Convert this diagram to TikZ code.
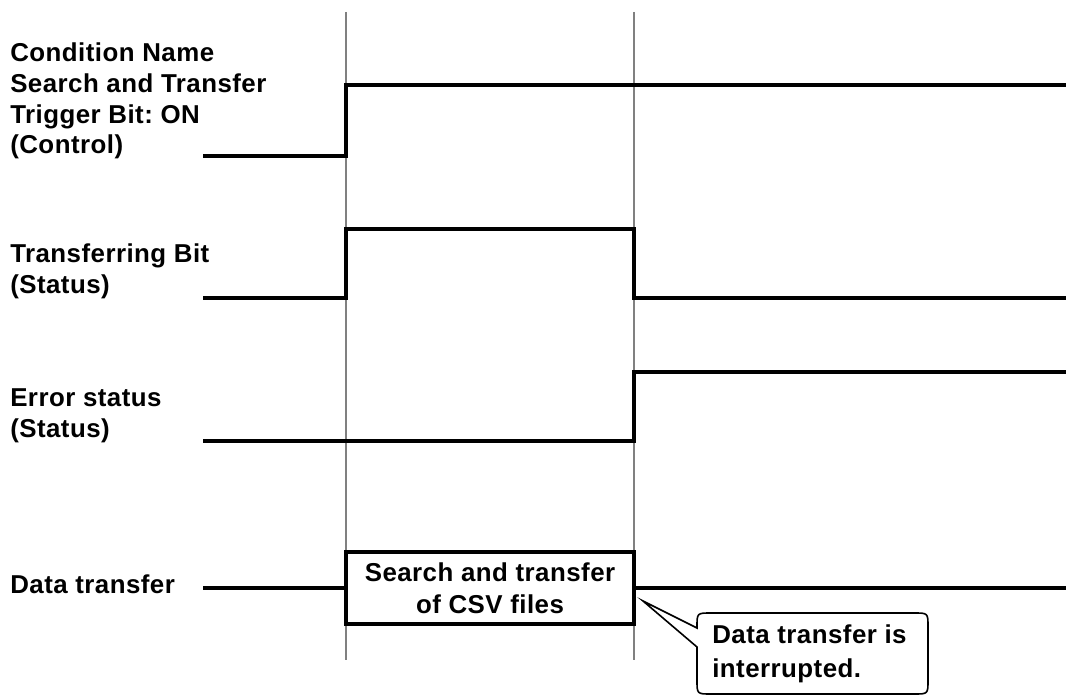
\documentclass[tikz,border=0pt]{standalone}
\usepackage{fontspec}
\setmainfont{Liberation Sans}[LetterSpace=1.8]
\frenchspacing
\begin{document}
\begin{tikzpicture}[x=0.75pt,y=-0.75pt,
  lbl/.style={font=\bfseries\fontsize{19.4}{23}\selectfont, align=left, inner sep=0pt, anchor=base west},
  sig/.style={line width=2.3pt, black},
  guide/.style={black!50, line width=1.2pt},
  boxed/.style={draw, line width=2.4pt, minimum width=216pt, minimum height=54pt, inner sep=0pt,
     font=\bfseries\fontsize{19.4}{24}\selectfont, align=center},
  callout/.style={line width=1.2pt, black}]
\useasboundingbox (0,0) rectangle (1066,695);
% guide lines
\coordinate (g1t) at (346,12); \coordinate (g1b) at (346,660);
\coordinate (g2t) at (634,12); \coordinate (g2b) at (634,660);
\draw[guide] (g1t) -- (g1b);
\draw[guide] (g2t) -- (g2b);
% labels (anchor = baseline of last line)
\node[lbl] (l1) at (10,154) {Condition Name\\Search and Transfer\\Trigger Bit: ON\\(Control)};
\node[lbl] (l2) at (10,293) {Transferring Bit\\(Status)};
\node[lbl] (l3) at (10,437) {Error status\\(Status)};
\node[lbl] (l4) at (10,593) {Data transfer};
% signals
\draw[sig] (203,156) -- (346,156) -- (346,85) -- (1066,85);
\draw[sig] (203,298) -- (346,298) -- (346,229) -- (634,229) -- (634,298) -- (1066,298);
\draw[sig] (203,441) -- (634,441) -- (634,372) -- (1066,372);
% data transfer box
\node[boxed] (xfer) at (490,588) {Search and transfer\\of CSV files};
\draw[sig] (203,588) -- (xfer.west);
\draw[sig] (xfer.east) -- (1066,588);
% callout
\coordinate (tip) at (643,601);
\draw[callout] (tip) -- (697,647) -- (697,680) .. controls (697,694) .. (711,694) -- (914,694)
  .. controls (928,694) .. (928,680) -- (928,627) .. controls (928,613) .. (914,613) -- (711,613)
  .. controls (697,613) .. (697,627) -- (697,628) -- cycle;
\node[lbl, font=\bfseries\fontsize{19.4}{25}\selectfont] (note) at (712,677) {Data transfer is\\interrupted.};
\end{tikzpicture}
\end{document}
